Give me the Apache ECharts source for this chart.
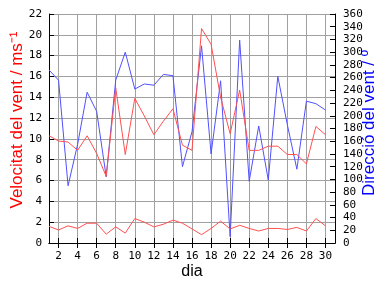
<!DOCTYPE html>
<html><head><meta charset="utf-8">
<script src="https://cdn.jsdelivr.net/npm/echarts@6/dist/echarts.min.js"></script>
<style>html,body{margin:0;padding:0;background:#fff}#c{width:384px;height:288px}</style>
</head><body><div id="c"></div>
<script>
const days = [1,2,3,4,5,6,7,8,9,10,11,12,13,14,15,16,17,18,19,20,21,22,23,24,25,26,27,28,29,30,31];
const velMax = [10.3, 9.8, 9.7, 8.9, 10.3, 8.6, 6.4, 14.9, 8.5, 13.9, 12.2, 10.4, 11.7, 12.9, 9.4, 8.9, 20.6, 19.1, 14.0, 10.5, 14.7, 8.9, 8.9, 9.3, 9.3, 8.5, 8.5, 7.6, 11.2, 10.4];
const velMean = [1.6, 1.25, 1.65, 1.4, 1.9, 1.9, 0.85, 1.55, 0.95, 2.35, 2.0, 1.55, 1.8, 2.2, 1.9, 1.35, 0.8, 1.4, 2.1, 1.35, 1.7, 1.4, 1.15, 1.4, 1.4, 1.3, 1.5, 1.15, 2.35, 1.65];
const dirVent = [272, 256, 90, 155, 237, 207, 104, 256, 300, 242, 250, 248, 265, 263, 120, 175, 310, 140, 255, 10, 319, 97, 184, 99, 262, 186, 116, 223, 219, 209];
const xName = 'dia';
const yLeftName = 'Velocitat del vent / ms⁻¹';
const yRightName = 'Direcció del vent / º';

const RED = '#ff5050', BLUE = '#5050ff', GRID = '#a0a0a0';
const mono = {fontFamily: 'DejaVu Sans Mono', fontSize: 11, color: '#000'};
const even = (i, v) => Number(v) % 2 === 0;
const chart = echarts.init(document.getElementById('c'));
chart.setOption({
  animation: false,
  grid: {left: 49, right: 49, top: 14, bottom: 45},
  xAxis: [{
    type: 'category', data: days.map(String), boundaryGap: false, position: 'bottom',
    axisLine: {lineStyle: {color: '#000', width: 1}},
    axisTick: {inside: true, length: 5, interval: even, lineStyle: {color: '#000'}},
    axisLabel: Object.assign({interval: even, margin: 8}, mono),
    splitLine: {show: true, interval: even, lineStyle: {color: GRID, width: 1}}
  }, {
    type: 'category', data: days.map(String), boundaryGap: false, position: 'top',
    axisLine: {lineStyle: {color: '#000', width: 1}},
    axisTick: {inside: true, length: 5, interval: even, lineStyle: {color: '#000'}},
    axisLabel: {show: false}, splitLine: {show: false}
  }],
  yAxis: [{
    type: 'value', min: 0, max: 22, interval: 2, position: 'left',
    axisLine: {show: true, lineStyle: {color: '#000', width: 1}},
    axisTick: {show: true, inside: true, length: 5, lineStyle: {color: '#000'}},
    axisLabel: Object.assign({margin: 7}, mono),
    splitLine: {show: true, lineStyle: {color: GRID, width: 1}}
  }, {
    type: 'value', min: 0, max: 360, interval: 20, position: 'right',
    axisLine: {show: true, lineStyle: {color: '#000', width: 1}},
    axisTick: {show: true, inside: true, length: 5, lineStyle: {color: '#000'}},
    axisLabel: Object.assign({margin: 8}, mono),
    splitLine: {show: false}
  }],
  graphic: [
    {type: 'text', left: 'center', top: 264, style: {text: xName, fontFamily: 'Liberation Sans', fontSize: 16, fill: '#000'}},
    {type: 'text', x: 9, y: 120, rotation: Math.PI / 2, style: {text: yLeftName, fontFamily: 'Liberation Sans', fontSize: 17, fill: '#ff0000', align: 'center', verticalAlign: 'top'}},
    {type: 'text', x: 361, y: 123, rotation: Math.PI / 2, style: {text: yRightName, fontFamily: 'Liberation Sans', fontSize: 17, fill: '#0000ff', align: 'center', verticalAlign: 'top'}}
  ],
  series: [
    {type: 'line', yAxisIndex: 1, data: dirVent, symbol: 'none', lineStyle: {color: BLUE, width: 1}, itemStyle: {color: BLUE}},
    {type: 'line', yAxisIndex: 0, data: velMax, symbol: 'none', lineStyle: {color: RED, width: 1}, itemStyle: {color: RED}},
    {type: 'line', yAxisIndex: 0, data: velMean, symbol: 'none', lineStyle: {color: RED, width: 1}, itemStyle: {color: RED}}
  ]
});
</script></body></html>
